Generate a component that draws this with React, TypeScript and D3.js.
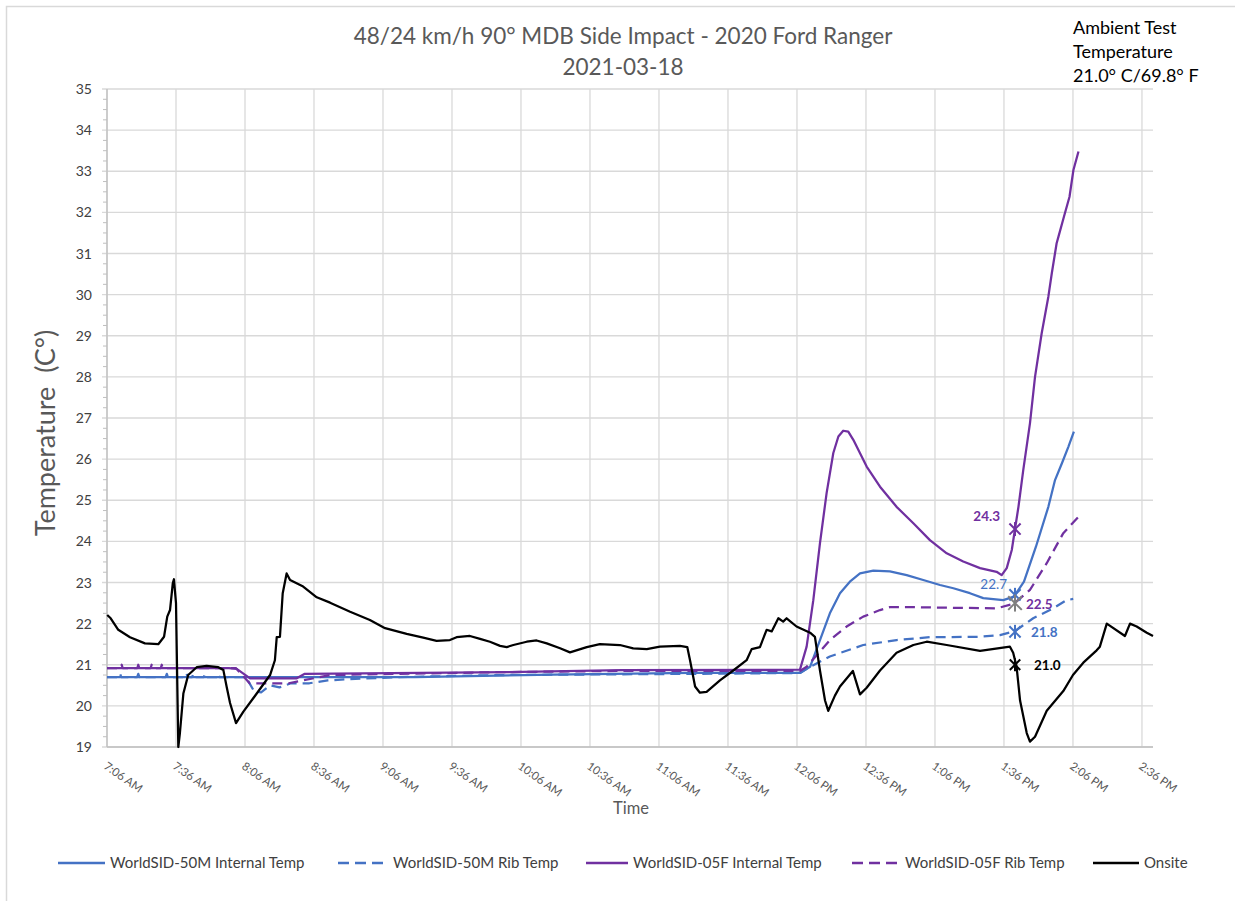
import React from "react";
import * as d3 from "d3";

// ---------- data (time = minutes since midnight, temp = °C) ----------
const tickTimes = [426, 456, 486, 516, 546, 576, 606, 636, 666, 696, 726, 756, 786, 816, 846, 876];
const tickLabels = ["7:06 AM", "7:36 AM", "8:06 AM", "8:36 AM", "9:06 AM", "9:36 AM", "10:06 AM", "10:36 AM", "11:06 AM", "11:36 AM", "12:06 PM", "12:36 PM", "1:06 PM", "1:36 PM", "2:06 PM", "2:36 PM"];
const yTicks = [19, 20, 21, 22, 23, 24, 25, 26, 27, 28, 29, 30, 31, 32, 33, 34, 35];

const onsite: [number, number][] = [
  [426.1, 22.21], [427.6, 22.13], [430.9, 21.85], [436.0, 21.67], [442.5, 21.52], [448.3, 21.5], [450.8, 21.68],
  [452.2, 22.17], [453.4, 22.33], [454.6, 22.98], [455.1, 23.08], [456.0, 22.5], [457.0, 19.0], [457.7, 19.34],
  [459.2, 20.3], [461.3, 20.75], [465.0, 20.94], [469.3, 20.97], [474.4, 20.94], [476.6, 20.87], [478.0, 20.47],
  [479.5, 20.07], [482.1, 19.58], [485.3, 19.86], [491.1, 20.3], [496.9, 20.75], [499.0, 21.11], [499.8, 21.67],
  [501.2, 21.68], [502.4, 22.74], [504.1, 23.22], [505.6, 23.06], [511.3, 22.9], [517.2, 22.64], [523.0, 22.51],
  [531.7, 22.29], [540.3, 22.09], [546.9, 21.89], [556.3, 21.75], [563.5, 21.66], [569.3, 21.58], [575.1, 21.6],
  [578.0, 21.67], [583.8, 21.7], [588.2, 21.63], [592.5, 21.56], [596.9, 21.46], [599.8, 21.43], [602.7, 21.48],
  [608.5, 21.56], [612.8, 21.59], [617.2, 21.52], [623.0, 21.4], [627.3, 21.3], [634.6, 21.43], [640.3, 21.5],
  [649.0, 21.48], [654.8, 21.4], [660.7, 21.38], [666.4, 21.44], [675.1, 21.46], [678.3, 21.43], [679.5, 21.11],
  [681.7, 20.47], [683.8, 20.32], [686.7, 20.34], [692.5, 20.62], [698.3, 20.86], [704.1, 21.11], [706.3, 21.38],
  [709.9, 21.43], [712.8, 21.85], [715.0, 21.81], [717.9, 22.13], [720.0, 22.05], [721.5, 22.13], [725.8, 21.93],
  [731.7, 21.78], [733.8, 21.68], [736.0, 20.86], [738.2, 20.13], [739.6, 19.88], [742.5, 20.25], [744.7, 20.47],
  [750.3, 20.85], [753.4, 20.28], [756.3, 20.44], [762.1, 20.86], [769.3, 21.29], [776.6, 21.48], [782.4, 21.56],
  [791.1, 21.48], [805.6, 21.34], [818.6, 21.44], [820.0, 21.29], [821.5, 20.95], [823.0, 20.13], [825.9, 19.34],
  [827.3, 19.13], [829.5, 19.25], [834.6, 19.88], [841.8, 20.36], [846.0, 20.75], [850.5, 21.05], [856.3, 21.35],
  [857.7, 21.44], [860.7, 22.0], [868.6, 21.7], [870.8, 22.0], [873.7, 21.93], [878.1, 21.78], [880.8, 21.7],
];

const m50Internal: [number, number][] = [
  [426, 20.7], [560, 20.7], [620, 20.76], [680, 20.8], [727.3, 20.8], [731.7, 20.95], [736.0, 21.6], [740.3, 22.25],
  [744.7, 22.74], [749.0, 23.02], [753.4, 23.22], [759.2, 23.29], [766.4, 23.27], [773.7, 23.18], [780.9, 23.06],
  [788.2, 22.94], [794.0, 22.86], [801.2, 22.74], [807.0, 22.62], [815.7, 22.57], [820.0, 22.65], [820.8, 22.7],
  [824.7, 23.02], [829.9, 23.87], [835.3, 24.84], [838.2, 25.49], [841.2, 25.9], [844.0, 26.3], [846.4, 26.67],
];

const m50Rib: [number, number][] = [
  [426, 20.7], [431.2, 20.7], [431.7, 20.78], [432.2, 20.7], [439.1, 20.7], [439.6, 20.78], [440.1, 20.7],
  [451.5, 20.7], [452.0, 20.78], [452.5, 20.7], [460.1, 20.7], [460.6, 20.78], [461.1, 20.7], [463.0, 20.7],
  [463.5, 20.78], [464.0, 20.7], [468.1, 20.7], [468.6, 20.78], [469.1, 20.7], [473.9, 20.7], [474.4, 20.78],
  [474.9, 20.7], [486.4, 20.7], [490, 20.35], [493, 20.33], [497, 20.5], [501, 20.45], [506, 20.55], [514, 20.55],
  [522, 20.62], [531.7, 20.65], [553, 20.7], [597, 20.75], [683, 20.78], [727.3, 20.8], [731.7, 20.95],
  [740.3, 21.2], [754.8, 21.48], [769.3, 21.6], [783.8, 21.67], [805.6, 21.68], [814.3, 21.72], [820.8, 21.82],
  [828.7, 22.13], [837.4, 22.37], [843.2, 22.57], [846.1, 22.6],
];

const f05Internal: [number, number][] = [
  [426, 20.92], [479, 20.92], [482.4, 20.9], [488.2, 20.67], [508.5, 20.67], [512, 20.78], [600, 20.82],
  [650, 20.87], [727.3, 20.88], [730.2, 21.44], [733.1, 22.57], [736.0, 23.96], [738.9, 25.18], [741.8, 26.15],
  [744.0, 26.55], [746.1, 26.69], [748.3, 26.67], [750.5, 26.47], [756.3, 25.82], [762.1, 25.33], [769.3, 24.84],
  [776.6, 24.44], [783.8, 24.03], [791.1, 23.71], [798.3, 23.51], [805.6, 23.35], [812.8, 23.26], [815.0, 23.18],
  [817.2, 23.35], [819.4, 23.79], [820.8, 24.3], [822.3, 24.84], [824.4, 25.74], [827.3, 26.87], [829.5, 28.0],
  [832.4, 29.06], [835.3, 29.95], [836.8, 30.52], [838.9, 31.25], [839.7, 31.41], [842.1, 31.9], [844.5, 32.38],
  [846.2, 33.03], [848.4, 33.48],
];

const f05Rib: [number, number][] = [
  [426, 20.92], [432.0, 20.92], [432.4, 21.0], [432.8, 20.92], [439.2, 20.92], [439.6, 21.0], [440.0, 20.92],
  [445.0, 20.92], [445.4, 21.0], [445.8, 20.92], [449.4, 20.92], [449.8, 21.0], [450.2, 20.92], [482, 20.92],
  [488, 20.55], [505, 20.55], [523, 20.75], [553, 20.78], [597, 20.82], [650, 20.85], [727.3, 20.85],
  [730.2, 20.95], [740.3, 21.6], [747.6, 21.93], [754.8, 22.17], [762.1, 22.33], [766.4, 22.4], [776.6, 22.4],
  [812.8, 22.37], [820.0, 22.48], [820.8, 22.51], [827.3, 22.82], [834.6, 23.47], [841.8, 24.2], [848.4, 24.6],
];

const markerTime = 820.8;
const markerValues = [24.3, 22.7, 22.5, 21.8, 21.0];
const markerLabels = ["24.3", "22.7", "22.5", "21.8", "21.0"];

const seriesNames = ["WorldSID-50M Internal Temp", "WorldSID-50M Rib Temp", "WorldSID-05F Internal Temp", "WorldSID-05F Rib Temp", "Onsite"];

// ---------- styles ----------
const BLUE = "#4472c4";
const PURPLE = "#7030a0";
const BLACK = "#000000";
const GRID = "#d9d9d9";
const TXT = "#595959";
const FONT = "Lato, 'Open Sans', sans-serif";

export default function App() {
  const x = d3.scaleLinear().domain([426, 880.8]).range([107, 1153]);
  const y = d3.scaleLinear().domain([19, 35]).range([747, 89]);
  const line = d3
    .line<[number, number]>()
    .x((d) => x(d[0]))
    .y((d) => y(d[1]));

  const series = [
    { data: m50Internal, color: BLUE, dash: undefined as string | undefined },
    { data: m50Rib, color: BLUE, dash: "10,6" },
    { data: f05Internal, color: PURPLE, dash: undefined },
    { data: f05Rib, color: PURPLE, dash: "10,6" },
    { data: onsite, color: BLACK, dash: undefined },
  ];

  const minorTicks = d3.range(19, 35.001, 0.25).filter((v) => Math.abs(v - Math.round(v)) > 0.01);

  const markerColors = [PURPLE, BLUE, "#7f7f7f", BLUE, BLACK];
  const markerSizes = [7, 7, 8.5, 7, 6.5];
  const labelColors = [PURPLE, BLUE, PURPLE, BLUE, BLACK];
  const labelSide = [-1, -1, 1, 1, 1];
  const labelDx = [-15, -8, 11, 16, 19];
  const labelDy = [-8, -6, 6, 5, 5];
  const labelWeight = [700, 400, 700, 700, 700];

  const legendX = [58, 338, 586, 852, 1093];
  const legendLen = [47, 50, 42, 48, 46];

  const mx = x(markerTime);

  return (
    <svg width={1235} height={901} style={{ position: "absolute", left: 0, top: 0, background: "#fff" }} fontFamily={FONT}>
      <rect x={0} y={0} width={1235} height={901} fill="#fff" />
      <rect x={6.5} y={6.5} width={1240} height={1000} fill="none" stroke="#d9d9d9" strokeWidth={1.5} />

      {/* title */}
      <text x={623} y={44} textAnchor="middle" fontSize={22.5} fill={TXT}>
        48/24 km/h 90° MDB Side Impact - 2020 Ford Ranger
      </text>
      <text x={623} y={75} textAnchor="middle" fontSize={22.5} fill={TXT}>
        2021-03-18
      </text>

      {/* ambient note */}
      <g fontSize={18} fill="#000">
        <text x={1073} y={34}>Ambient Test</text>
        <text x={1073} y={58}>Temperature</text>
        <text x={1073} y={82}>21.0° C/69.8° F</text>
      </g>

      {/* grid */}
      {yTicks.map((v) => (
        <line key={"gy" + v} x1={102} x2={1153} y1={y(v)} y2={y(v)} stroke={GRID} strokeWidth={1.3} />
      ))}
      {tickTimes.map((t) => (
        <line key={"gx" + t} x1={x(t)} x2={x(t)} y1={89} y2={747} stroke={GRID} strokeWidth={1.3} />
      ))}
      {minorTicks.map((v) => (
        <line key={"mt" + v} x1={103} x2={107} y1={y(v)} y2={y(v)} stroke="#bfbfbf" strokeWidth={1} />
      ))}
      <line x1={107} x2={107} y1={89} y2={747} stroke="#bfbfbf" strokeWidth={1.3} />
      <line x1={107} x2={1153} y1={747} y2={747} stroke="#bfbfbf" strokeWidth={1.3} />

      {/* y tick labels */}
      {yTicks.map((v) => (
        <text key={"yl" + v} x={92} y={y(v)} dy="0.36em" textAnchor="end" fontSize={14} fill="#404040">
          {v}
        </text>
      ))}
      {/* x tick labels */}
      {tickTimes.map((t, i) => (
        <text
          key={"xl" + t}
          transform={`translate(${x(t) - 4},${768}) rotate(35)`}
          fontSize={11.5}
          fill={TXT}
        >
          {tickLabels[i]}
        </text>
      ))}

      {/* axis titles */}
      <text transform="translate(55,433) rotate(-90)" textAnchor="middle" fontSize={27} fill={TXT}>
        {"Temperature\u00a0\u00a0(C°)"}
      </text>
      <text x={631} y={814} textAnchor="middle" fontSize={16.5} fill={TXT}>
        Time
      </text>

      {/* series */}
      <g>
        {series.map((s, i) => (
          <path
            key={"s" + i}
            d={line(s.data) || ""}
            fill="none"
            stroke={s.color}
            strokeWidth={2.25}
            strokeDasharray={s.dash}
            strokeLinejoin="round"
          />
        ))}
      </g>

      {/* markers */}
      {markerValues.map((v, i) => {
        const cy = y(v);
        const r = markerSizes[i];
        const d = r * 0.8;
        return (
          <g key={"mk" + i} stroke={markerColors[i]} strokeWidth={2}>
            <line x1={mx - d} y1={cy - d} x2={mx + d} y2={cy + d} />
            <line x1={mx - d} y1={cy + d} x2={mx + d} y2={cy - d} />
            <line x1={mx} y1={cy - r} x2={mx} y2={cy + r} />
          </g>
        );
      })}
      {markerValues.map((v, i) => (
        <text
          key={"ml" + i}
          x={mx + labelDx[i]}
          y={y(v) + labelDy[i]}
          textAnchor={labelSide[i] < 0 ? "end" : "start"}
          fontSize={13.5}
          fontWeight={labelWeight[i]}
          fill={labelColors[i]}
        >
          {markerLabels[i]}
        </text>
      ))}

      {/* legend */}
      {seriesNames.map((name, i) => (
        <g key={"lg" + i}>
          <line
            x1={legendX[i]}
            x2={legendX[i] + legendLen[i]}
            y1={863}
            y2={863}
            stroke={series[i].color}
            strokeWidth={2.5}
            strokeDasharray={series[i].dash ? "11,6" : undefined}
          />
          <text x={legendX[i] + legendLen[i] + 5} y={868} fontSize={15} fill="#404040">
            {name}
          </text>
        </g>
      ))}
    </svg>
  );
}
